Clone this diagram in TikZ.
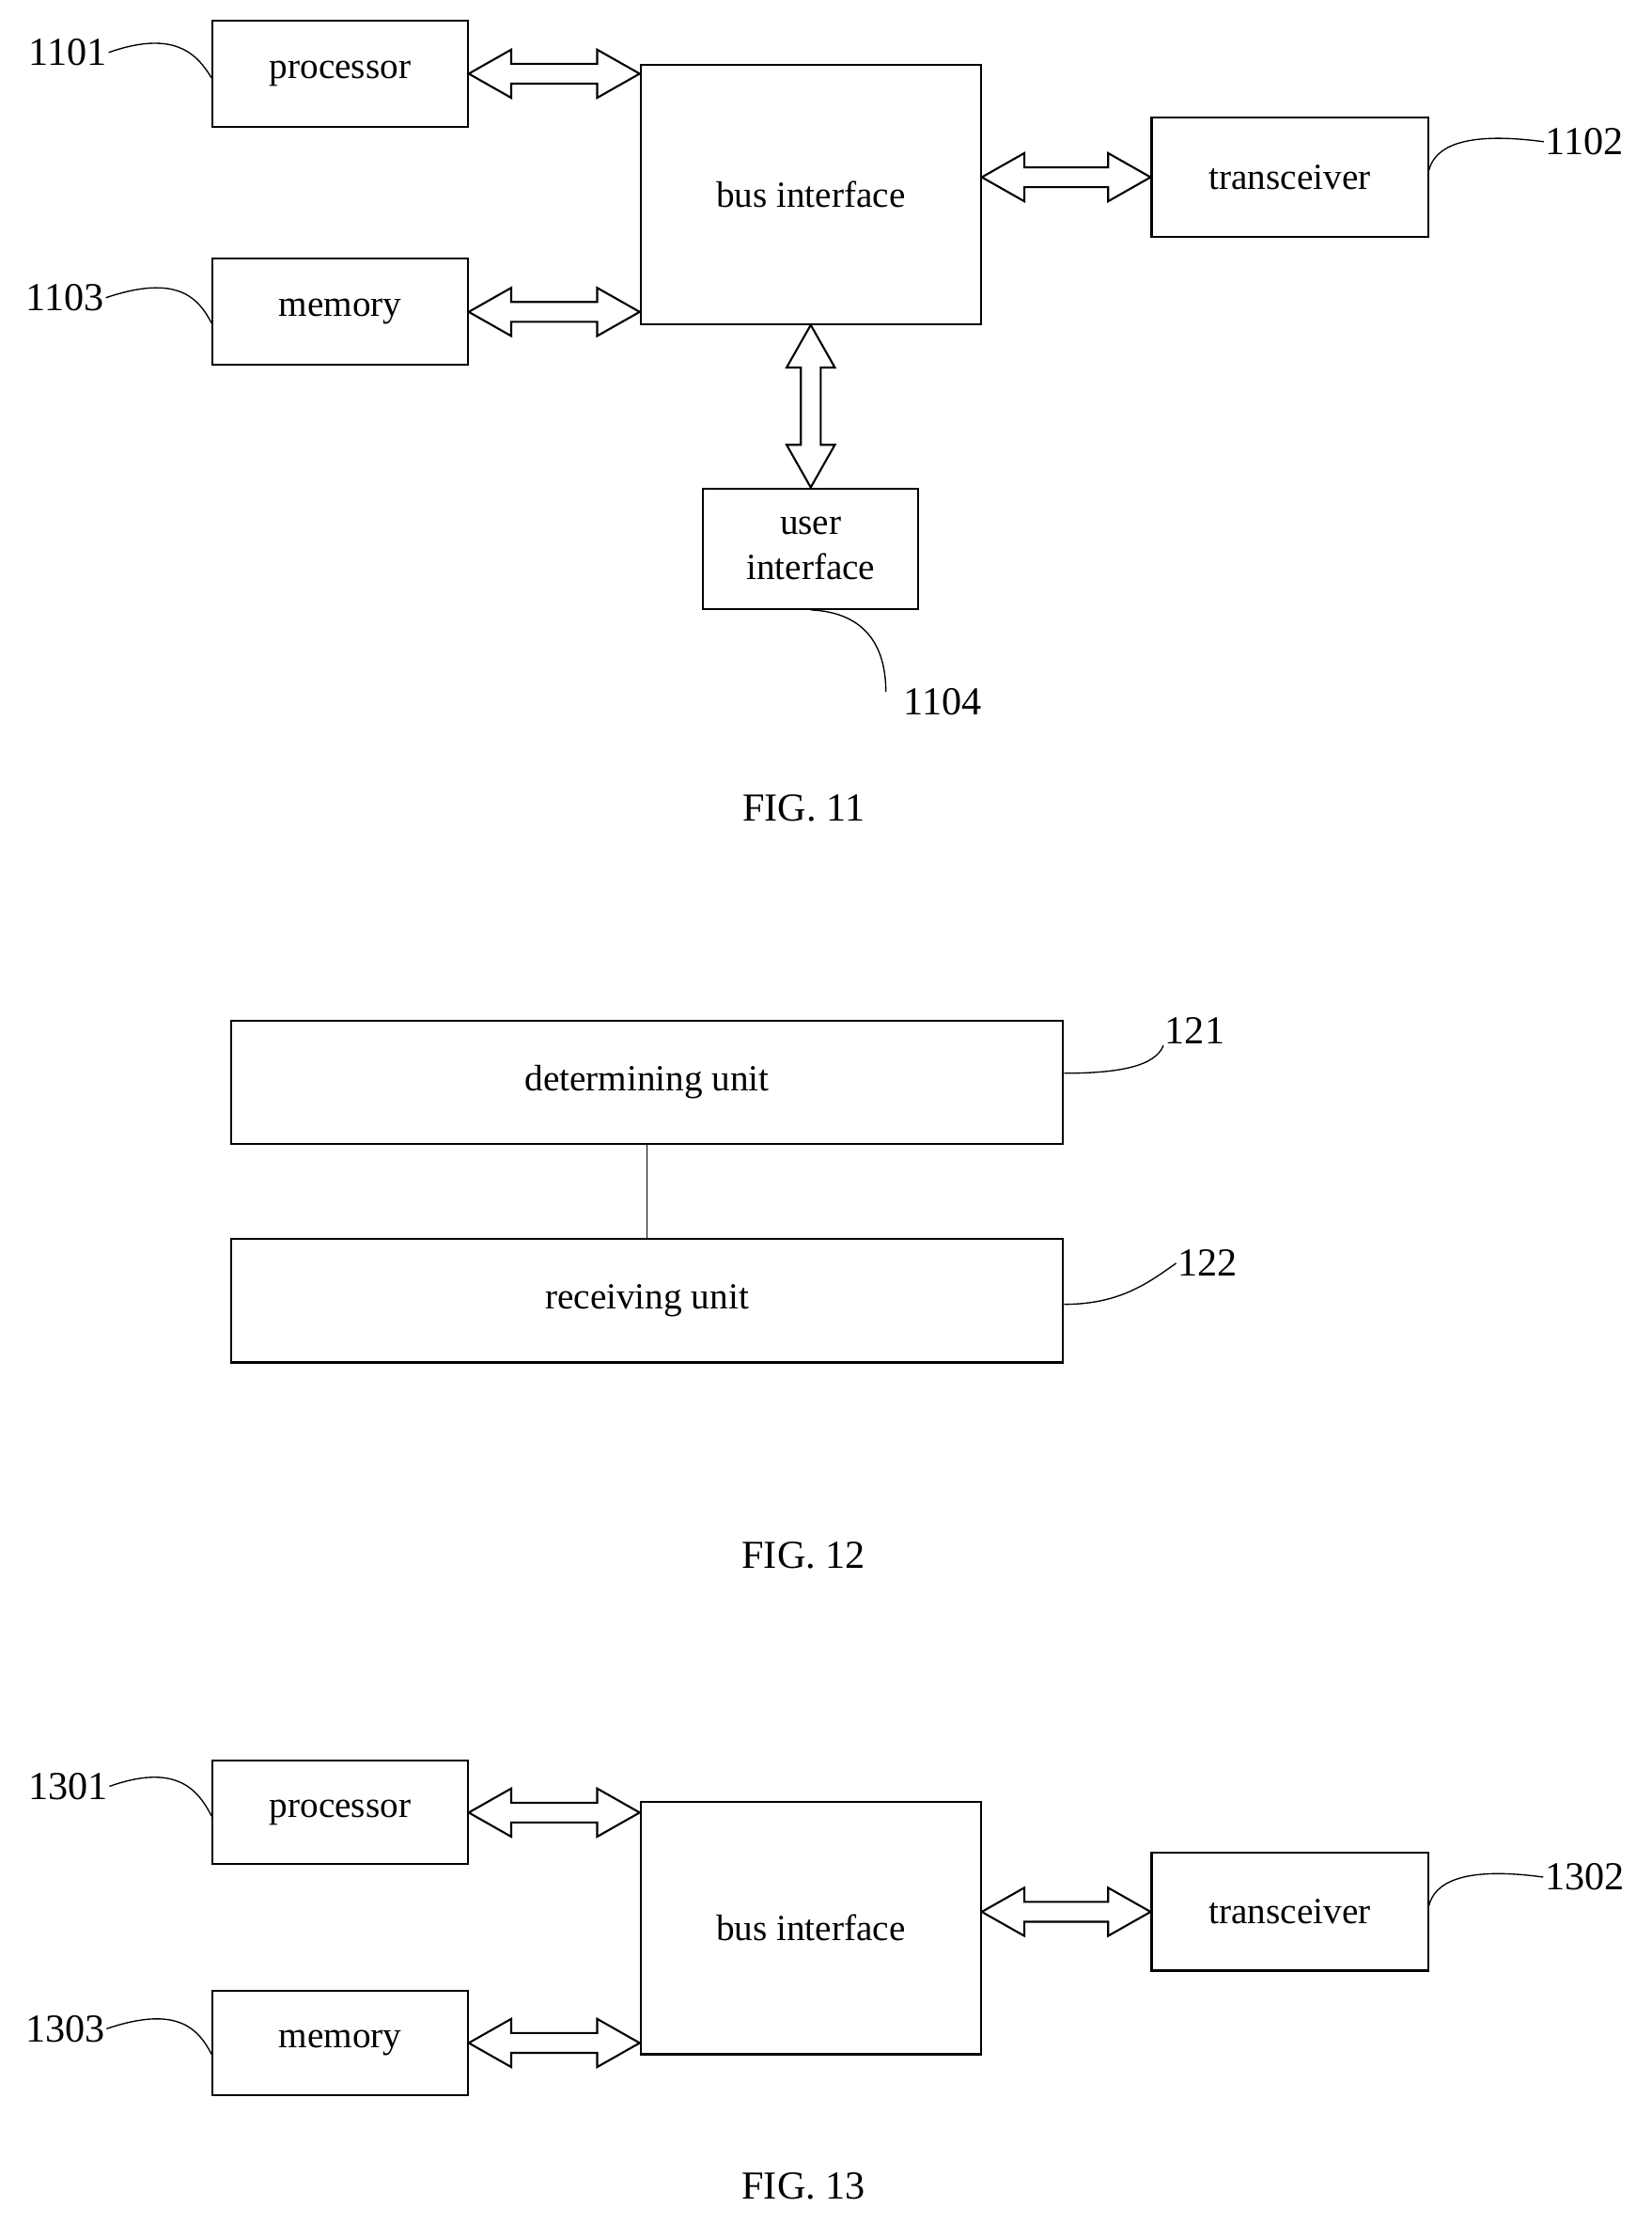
\documentclass[tikz,border=0pt]{standalone}
\usepackage{fontspec}
\setmainfont{Liberation Serif}
\usetikzlibrary{calc}
\tikzset{
 box/.style={draw,line width=1.4pt,inner sep=0pt,align=center,font=\fontsize{26}{32}\selectfont},
 lab/.style={font=\fontsize{28}{30}\selectfont,inner sep=1pt},
 lead/.style={line width=0.9pt},
 figcap/.style={font=\fontsize{28}{30}\selectfont},
 darr/.style={line width=1.4pt,fill=white,line join=miter}
}
\newcommand\harr[2]{\draw[darr] let \p1=(#1), \p2=(#2) in
 (\x1,\y1) -- (\x1+30,\y1+17) -- (\x1+30,\y1+7) -- (\x2-30,\y1+7) -- (\x2-30,\y1+17) -- (\x2,\y1)
 -- (\x2-30,\y1-17) -- (\x2-30,\y1-7) -- (\x1+30,\y1-7) -- (\x1+30,\y1-17) -- cycle;}
\newcommand\varr[2]{\draw[darr] let \p1=(#1), \p2=(#2) in
 (\x1,\y1) -- (\x1+17,\y1-30) -- (\x1+7,\y1-30) -- (\x1+7,\y2+30) -- (\x1+17,\y2+30) -- (\x1,\y2)
 -- (\x1-17,\y2+30) -- (\x1-7,\y2+30) -- (\x1-7,\y1-30) -- (\x1-17,\y1-30) -- cycle;}
\begin{document}
\begin{tikzpicture}[x=1pt,y=-1pt]
\useasboundingbox (0,0) rectangle (1165,1568);
% FIG 11
\node[box,minimum width=180pt,minimum height=75pt] (p1) at (240,52) {processor};
\node[box,minimum width=180pt,minimum height=75pt] (m1) at (240,220) {memory};
\node[box,minimum width=240pt,minimum height=183pt] (b1) at (572,137) {bus interface};
\node[box,minimum width=195pt,minimum height=84pt] (t1) at (910,125) {transceiver};
\node[box,minimum width=152pt,minimum height=85pt] (u1) at (572,387) {user\\interface};
\harr{p1.east}{b1.west|-p1.east}
\harr{m1.east}{b1.west|-m1.east}
\harr{b1.east|-t1.west}{t1.west}
\varr{b1.south}{u1.north}
\node[lab] (l1101) at (48,37) {1101};
\node[lab] (l1103) at (46,210) {1103};
\node[lab] (l1102) at (1118,100) {1102};
\node[lab] (l1104) at (665,495) {1104};
\draw[lead] (l1101.east) .. controls (125,20) and (140,40) .. (p1.west|-0,55);
\draw[lead] (l1103.east) .. controls (125,193) and (140,210) .. (m1.west|-0,228);
\draw[lead] (l1102.west) .. controls (1030,92) and (1012,105) .. (t1.east|-0,120);
\draw[lead] (u1.south) .. controls (610,432) and (625,455) .. (625,488);
\node[figcap] (c11) at (567,570) {FIG. 11};
% FIG 12
\node[box,minimum width=587pt,minimum height=87pt] (d2) at (456.5,763.5) {determining unit};
\node[box,minimum width=587pt,minimum height=87pt] (r2) at (456.5,917.5) {receiving unit};
\draw[line width=1.2pt] (d2.south) -- (r2.north);
\node[lab] (l121) at (843,727) {121};
\node[lab] (l122) at (852,891) {122};
\draw[lead] (d2.east|-0,757) .. controls (790,757) and (815,752) .. (l121.south west);
\draw[lead] (r2.east|-0,920) .. controls (790,920) and (810,905) .. (l122.west);
\node[figcap] (c12) at (567,1097) {FIG. 12};
% FIG 13
\node[box,minimum width=180pt,minimum height=73pt] (p3) at (240,1278.5) {processor};
\node[box,minimum width=180pt,minimum height=74pt] (m3) at (240,1441) {memory};
\node[box,minimum width=240pt,minimum height=178pt] (b3) at (572,1360) {bus interface};
\node[box,minimum width=195pt,minimum height=83pt] (t3) at (910,1348.5) {transceiver};
\harr{p3.east}{b3.west|-p3.east}
\harr{m3.east}{b3.west|-m3.east}
\harr{b3.east|-t3.west}{t3.west}
\node[lab] (l1301) at (48,1260) {1301};
\node[lab] (l1303) at (46,1431) {1303};
\node[lab] (l1302) at (1118,1324) {1302};
\draw[lead] (l1301.east) .. controls (125,1243) and (140,1263) .. (p3.west|-0,1281);
\draw[lead] (l1303.east) .. controls (125,1414) and (140,1431) .. (m3.west|-0,1449);
\draw[lead] (l1302.west) .. controls (1030,1316) and (1012,1329) .. (t3.east|-0,1344);
\node[figcap] (c13) at (567,1542) {FIG. 13};
\end{tikzpicture}
\end{document}
